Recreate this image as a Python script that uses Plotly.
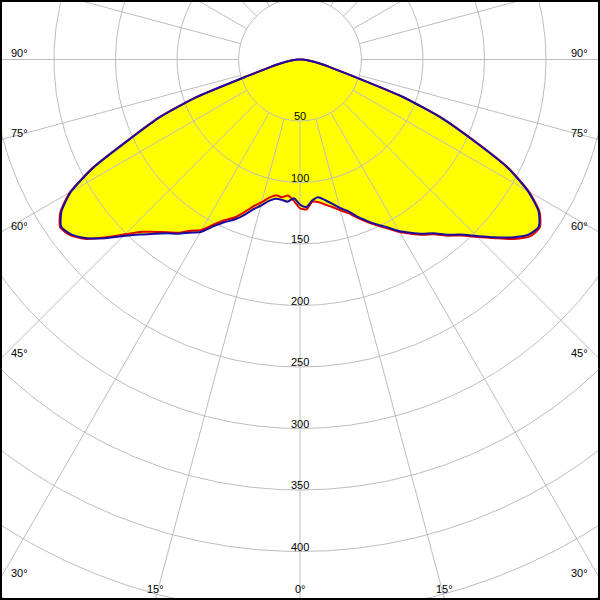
import numpy as np
import plotly.graph_objects as go

# ---- data ----
gamma_deg = [-90, -87.5, -85, -82.5, -80, -77.5, -75, -72.5, -70, -67.5, -65, -62.5, -60,
             -57.5, -55, -52.5, -50, -47.5, -45, -42.5, -40, -37.5, -35, -32.5, -30,
             -27.5, -25, -22.5, -20, -17.5, -15, -12.5, -10, -7.5, -5, -2.5, 0,
             2.5, 5, 7.5, 10, 12.5, 15, 17.5, 20, 22.5, 25, 27.5, 30,
             32.5, 35, 37.5, 40, 42.5, 45, 47.5, 50, 52.5, 55, 57.5, 60,
             62.5, 65, 67.5, 70, 72.5, 75, 77.5, 80, 82.5, 85, 87.5, 90]

intensity_red = [0, 2, 5, 9, 13, 19, 28, 46, 91, 126, 153, 189, 216,
                 231, 238, 235, 227, 214, 201, 190, 183, 177, 172, 165, 160,
                 151, 144, 139, 132, 125, 120, 115, 112, 113, 111, 115, 121,
                 122, 116, 117, 120, 123, 127, 131, 137, 143, 149, 155, 162,
                 168, 174, 179, 187, 194, 204, 215, 227, 236, 238, 231, 215,
                 191, 156, 126, 89, 46, 28, 19, 13, 9, 5, 2, 0]

intensity_blue = [0, 2, 5, 9, 13, 19, 27, 45, 90, 125, 152, 188, 215,
                  230, 237, 234, 226, 215, 203, 193, 185, 178, 173, 167, 162,
                  153, 146, 141, 135, 128, 123, 118, 115, 115, 116, 113, 118,
                  120, 115, 113, 116, 120, 125, 129, 136, 142, 148, 154, 161,
                  167, 173, 178, 186, 193, 203, 214, 225, 234, 237, 230, 214,
                  190, 155, 125, 88, 45, 27, 19, 13, 9, 5, 2, 0]

ring_values = [50, 100, 150, 200, 250, 300, 350, 400, 450, 500, 550]
ring_label_values = [50, 100, 150, 200, 250, 300, 350, 400]
spoke_angles = list(range(0, 360, 15))
side_label_angles = [90, 75, 60, 45, 30]
bottom_label_angles = [-15, 0, 15]

# ---- geometry of the view ----
PX_PER_UNIT = 1.23
W = H = 600
CX_PX, CY_PX = 300.0, 59.5
x_half = CX_PX / PX_PER_UNIT
y_top = CY_PX / PX_PER_UNIT
y_bot = -(H - CY_PX) / PX_PER_UNIT


def to_xy(angles_deg, radii):
    a = np.radians(np.asarray(angles_deg, dtype=float))
    r = np.asarray(radii, dtype=float)
    return r * np.sin(a), -r * np.cos(a)


fig = go.Figure()

# yellow fill
for vals in (intensity_red, intensity_blue):
    fx, fy = to_xy(gamma_deg, vals)
    fig.add_trace(go.Scatter(x=fx, y=fy, mode="lines", fill="toself",
                             fillcolor="#FFFF00",
                             line=dict(width=0, color="#FFFF00", shape="spline", smoothing=0.6),
                             hoverinfo="skip", showlegend=False))

# grid rings
gx, gy = [], []
th = np.linspace(0, 360, 721)
for rv in ring_values:
    cx, cy = to_xy(th, np.full(th.shape, rv))
    gx += list(cx) + [None]
    gy += list(cy) + [None]
# spokes from first ring outward
for sa in spoke_angles:
    sx, sy = to_xy([sa, sa], [ring_values[0], 800])
    gx += list(sx) + [None]
    gy += list(sy) + [None]
fig.add_trace(go.Scatter(x=gx, y=gy, mode="lines",
                         line=dict(color="#BDBDBD", width=1),
                         hoverinfo="skip", showlegend=False))

# curves
rx, ry = to_xy(gamma_deg, intensity_red)
fig.add_trace(go.Scatter(x=rx, y=ry, mode="lines",
                         line=dict(color="#E00000", width=2, shape="spline", smoothing=0.6),
                         hoverinfo="skip", showlegend=False))
bx, by = to_xy(gamma_deg, intensity_blue)
fig.add_trace(go.Scatter(x=bx, y=by, mode="lines",
                         line=dict(color="#1A0AA0", width=2, shape="spline", smoothing=0.6),
                         hoverinfo="skip", showlegend=False))

font = dict(family="Liberation Sans, Arial, sans-serif", size=11, color="black")
ann = []
for rv in ring_label_values:
    ann.append(dict(x=0, y=-rv, xref="x", yref="y", text=str(rv), showarrow=False,
                    xanchor="center", yanchor="middle", yshift=5, font=font))
for a in side_label_angles:
    ly = 0.0 if a == 90 else -x_half / np.tan(np.radians(a))
    ann.append(dict(x=-x_half, y=ly, xref="x", yref="y", text=f"{a}°", showarrow=False,
                    xanchor="left", yanchor="middle", xshift=9, yshift=6.5, font=font))
    ann.append(dict(x=x_half, y=ly, xref="x", yref="y", text=f"{a}°", showarrow=False,
                    xanchor="right", yanchor="middle", xshift=-10, yshift=6.5, font=font))
for a in bottom_label_angles:
    lx = -y_bot * np.tan(np.radians(a))
    ann.append(dict(x=lx, y=y_bot, xref="x", yref="y", text=f"{abs(a)}°", showarrow=False,
                    xanchor="center", yanchor="middle", yshift=11, font=font))

fig.update_layout(
    width=W, height=H, autosize=False,
    margin=dict(l=0, r=0, t=0, b=0, pad=0),
    paper_bgcolor="white", plot_bgcolor="white",
    xaxis=dict(range=[-x_half, x_half], visible=False, fixedrange=True),
    yaxis=dict(range=[y_bot, y_top], visible=False, fixedrange=True),
    annotations=ann,
    shapes=[dict(type="rect", xref="paper", yref="paper", x0=0, y0=0, x1=1, y1=1,
                 line=dict(color="black", width=4), layer="above")],
    showlegend=False,
)

fig.write_html(
    "out.html",
    config={"displayModeBar": False, "staticPlot": True},
    post_script="document.body.style.margin='0';document.body.style.padding='0';"
                "document.body.style.overflow='hidden';"
                "document.documentElement.style.overflow='hidden';",
)
